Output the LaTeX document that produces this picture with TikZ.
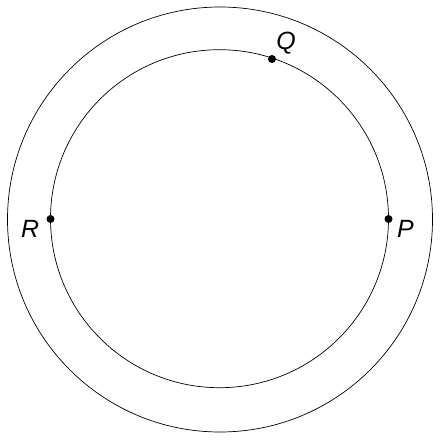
\documentclass[tikz,border=0pt]{standalone}
\usepackage{fontspec}
\setsansfont{Liberation Sans}
\usetikzlibrary{
  positioning,  % Function "of"
}
\def\myouter{212.5}
\def\myinner{169}
\tikzset{
  x=1bp,
  y=-1bp,
  font=\sffamily\itshape\fontsize{25}{30}\selectfont,
  my ring/.style={
    draw,
    line width=0.7pt
  },
  my dot/.style={
    circle,
    fill,
    inner sep=0pt,
    minimum size=8bp
  },
  my label/.style={
    inner sep=1pt
  }
}
\begin{document}
\begin{tikzpicture}
\useasboundingbox (0,0) rectangle (440,440);
\coordinate (o) at (220,219.5);
\coordinate (i) at (219.5,218.7);
\path[my ring] (o) circle[radius=\myouter];
\path[my ring] (i) circle[radius=\myinner];
% points on the inner ring
\node[my dot] (R) at (50.5,219) {};
\node[my dot] (P) at (388.5,219) {};
\node[my dot] (Q) at (272,59)   {};
\node[my label] (lR) at (30,229)  {R};
\node[my label] (lP) at (405.5,229) {P};
\node[my label] (lQ) at (286,43)  {Q};
\end{tikzpicture}
\end{document}
